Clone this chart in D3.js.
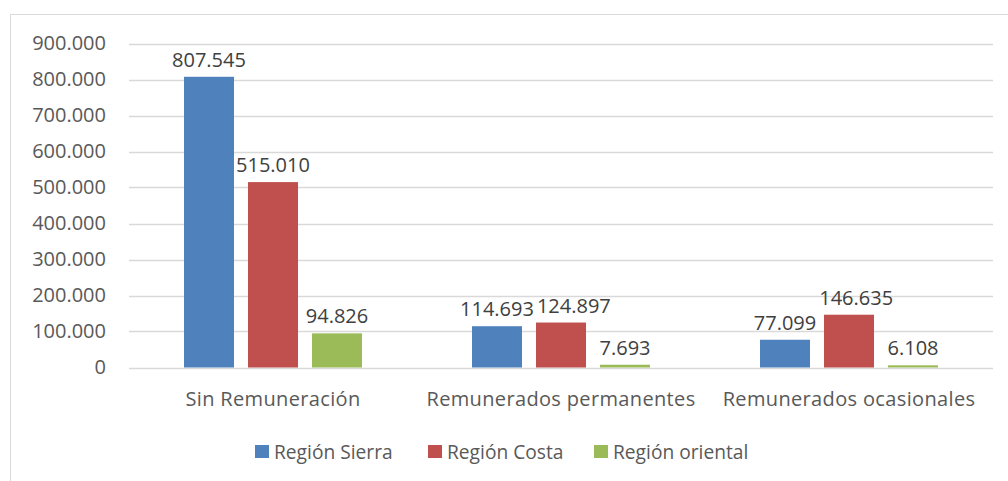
<!DOCTYPE html>
<html>
<head>
<meta charset="utf-8">
<script src="https://cdn.jsdelivr.net/npm/d3@7"></script>
<style>
  html, body { margin: 0; padding: 0; background: #fff; }
  svg { display: block; }
  text { font-family: "Open Sans", Lato, sans-serif; }
</style>
</head>
<body>
<svg id="chart" width="1008" height="481"></svg>
<script>
const categories = ["Sin Remuneración", "Remunerados permanentes", "Remunerados ocasionales"];
const seriesNames = ["Región Sierra", "Región Costa", "Región oriental"];
const sierra = [807545, 114693, 77099];
const costa = [515010, 124897, 146635];
const oriental = [94826, 7693, 6108];
const yTicks = [0, 100000, 200000, 300000, 400000, 500000, 600000, 700000, 800000, 900000];
const colors = ["#4F81BD", "#C0504D", "#9BBB59"];

const seriesValues = [sierra, costa, oriental];
const data = categories.map((c, i) => ({
  category: c,
  values: seriesNames.map((s, j) => ({ series: s, value: seriesValues[j][i], idx: j }))
}));

const FONT = "'Open Sans', Lato, sans-serif";
const FS = 20;
const LS = "0.35px";
const svg = d3.select("#chart");
const fmt = v => d3.format(",")(v).replace(/,/g, ".");

// outer chart border
svg.append("rect")
  .attr("x", 10.5).attr("y", 14.5)
  .attr("width", 1010).attr("height", 480)
  .attr("fill", "none").attr("stroke", "#d9d9d9").attr("stroke-width", 1);

const plot = { left: 129, right: 993, top: 43.5, bottom: 367.5 };

const y = d3.scaleLinear().domain([0, 900000]).range([plot.bottom, plot.top]);
const x0 = d3.scaleBand().domain(categories).range([plot.left, plot.right]).padding(0);
const x1 = d3.scaleBand().domain(seriesNames).range([0, x0.bandwidth()])
  .paddingInner(14 / 64).paddingOuter(0.859375);

// gridlines
svg.append("g").selectAll("line").data(yTicks).join("line")
  .attr("x1", plot.left).attr("x2", plot.right)
  .attr("y1", d => Math.round(y(d)) + 0.5).attr("y2", d => Math.round(y(d)) + 0.5)
  .attr("stroke", "#d9d9d9").attr("stroke-width", 1.5);

// y axis labels
const yAxis = d3.axisLeft(y).tickValues(yTicks).tickFormat(fmt).tickSize(0).tickPadding(0);
const yg = svg.append("g").attr("transform", `translate(106,0)`).call(yAxis);
yg.select(".domain").remove();
yg.selectAll("text")
  .attr("fill", "#595959").attr("font-size", FS)
  .style("font-family", FONT);

// bars
const groups = svg.append("g").selectAll("g").data(data).join("g")
  .attr("transform", d => `translate(${x0(d.category)},0)`);

groups.selectAll("rect").data(d => d.values).join("rect")
  .attr("x", d => x1(d.series))
  .attr("y", d => y(d.value))
  .attr("width", x1.bandwidth())
  .attr("height", d => y(0) - y(d.value))
  .attr("fill", d => colors[d.idx]);

// data labels
groups.each(function() {
  const labels = d3.select(this).selectAll("text").data(d => d.values).join("text")
    .attr("x", d => x1(d.series) + x1.bandwidth() / 2)
    .attr("y", d => y(d.value) - 10)
    .attr("text-anchor", "middle")
    .attr("font-size", FS)
    .attr("fill", "#404040")
    .text(d => fmt(d.value));
  // simple collision avoidance: nudge a label right if it overlaps the previous one
  let prev = null;
  labels.each(function() {
    const b = this.getBBox();
    if (prev && b.x < prev.x + prev.width + 3 && b.y < prev.y + prev.height && b.y + b.height > prev.y) {
      const shift = prev.x + prev.width + 3 - b.x;
      d3.select(this).attr("x", +d3.select(this).attr("x") + shift);
      b.x += shift;
    }
    prev = { x: b.x, y: b.y, width: b.width, height: b.height };
  });
});

// x axis labels
const xAxis = d3.axisBottom(x0).tickSize(0).tickPadding(0);
const xg = svg.append("g").attr("transform", `translate(0,${plot.bottom})`).call(xAxis);
xg.select(".domain").remove();
xg.selectAll("text")
  .attr("y", 38).attr("dy", null)
  .attr("fill", "#595959").attr("font-size", FS)
  .style("letter-spacing", LS)
  .style("font-family", FONT);

// legend
const legendX = [255, 428, 594];
const legend = svg.append("g").selectAll("g").data(seriesNames).join("g")
  .attr("transform", (d, i) => `translate(${legendX[i]},445)`);
legend.append("rect").attr("width", 14).attr("height", 13).attr("fill", (d, i) => colors[i]);
legend.append("text").attr("x", 19).attr("y", 14)
  .attr("font-size", 19.2).attr("fill", "#595959").text(d => d);
</script>
</body>
</html>
